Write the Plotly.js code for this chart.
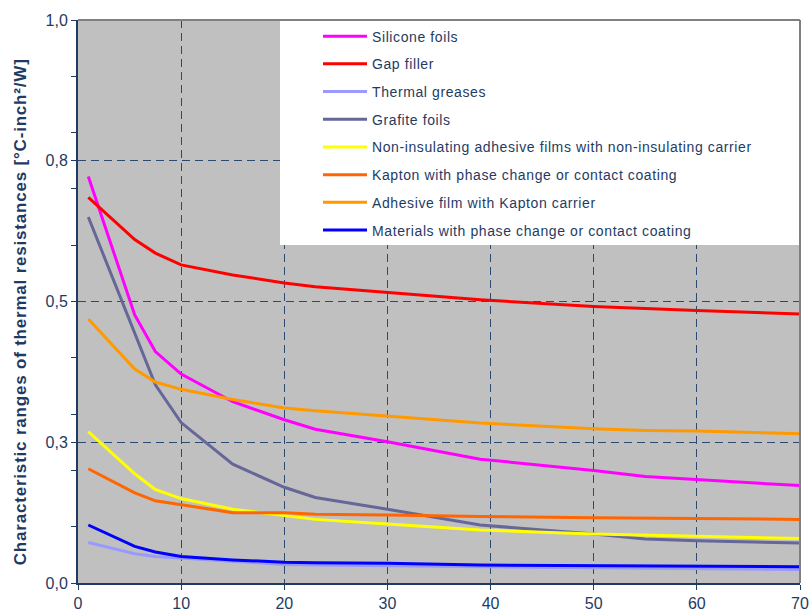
<!DOCTYPE html>
<html>
<head>
<meta charset="utf-8">
<script src="https://cdn.plot.ly/plotly-3.0.1.min.js"></script>
<style>
html,body{margin:0;padding:0;background:#fff;}
#chart{width:812px;height:616px;}
.legendtext{letter-spacing:0.6px;}
.annotation-text{letter-spacing:0.8px;}
</style>
</head>
<body>
<div id="chart"></div>
<script>
// Thickness values (x) shared by all series
const xVals = [1, 5.5, 7.5, 10, 15, 20, 23, 30, 39, 50, 55, 60, 70];

const seriesNames = [
  "Silicone foils",
  "Gap filler",
  "Thermal greases",
  "Grafite foils",
  "Non-insulating adhesive films with non-insulating carrier",
  "Kapton with phase change or contact coating",
  "Adhesive film with Kapton carrier",
  "Materials with phase change or contact coating"
];

const siliconeFoils   = [0.722, 0.476, 0.411, 0.371, 0.322, 0.290, 0.273, 0.251, 0.220, 0.200, 0.189, 0.184, 0.173];
const gapFiller       = [0.685, 0.610, 0.586, 0.565, 0.547, 0.533, 0.526, 0.516, 0.503, 0.491, 0.487, 0.484, 0.478];
const thermalGreases  = [0.072, 0.052, 0.047, 0.044, 0.038, 0.033, 0.032, 0.031, 0.029, 0.027, 0.026, 0.025, 0.024];
const grafiteFoils    = [0.650, 0.442, 0.352, 0.285, 0.211, 0.170, 0.152, 0.131, 0.103, 0.087, 0.078, 0.075, 0.071];
const nonInsulating   = [0.269, 0.194, 0.166, 0.150, 0.131, 0.119, 0.113, 0.105, 0.094, 0.087, 0.085, 0.084, 0.079];
const kaptonPhase     = [0.203, 0.160, 0.146, 0.139, 0.125, 0.125, 0.122, 0.121, 0.118, 0.116, 0.115, 0.114, 0.113];
const adhesiveKapton  = [0.469, 0.380, 0.357, 0.344, 0.326, 0.311, 0.306, 0.296, 0.284, 0.274, 0.271, 0.270, 0.265];
const phaseChange     = [0.103, 0.065, 0.055, 0.047, 0.041, 0.037, 0.036, 0.035, 0.032, 0.031, 0.031, 0.030, 0.029];

const seriesValues = [siliconeFoils, gapFiller, thermalGreases, grafiteFoils, nonInsulating, kaptonPhase, adhesiveKapton, phaseChange];
const seriesColors = ["#ff00ff", "#ff0000", "#9999ff", "#666699", "#ffff00", "#ff6600", "#ff9900", "#0000ff"];

const xTicks = [0, 10, 20, 30, 40, 50, 60, 70];
const yTickVals = [0, 0.25, 0.5, 0.75, 1.0];
const yTickText = ["0,0", "0,3", "0,5", "0,8", "1,0"];
const yTitle = "Characteristic ranges of thermal resistances [°C-inch²/W]";

const navy = "#1f3b63";
const gridCol = "#2a4a72";
const fontFam = "Arial, 'Liberation Sans', sans-serif";

const traces = seriesNames.map((name, i) => ({
  type: "scatter",
  mode: "lines",
  name: name,
  x: xVals,
  y: seriesValues[i],
  line: {color: seriesColors[i], width: 3},
  legendgroup: "g" + i,
  hoverinfo: "x+y+name"
}));

const layout = {
  width: 812,
  height: 616,
  margin: {l: 78, r: 12, t: 20, b: 33, pad: 0},
  paper_bgcolor: "#ffffff",
  plot_bgcolor: "#c0c0c0",
  font: {family: fontFam, color: navy, size: 16},
  showlegend: true,
  legend: {
    x: 0.3324, y: 0.999, xanchor: "left", yanchor: "top",
    bgcolor: "rgba(0,0,0,0)",
    borderwidth: 0,
    font: {family: fontFam, size: 14, color: navy},
    itemwidth: 44,
    traceorder: "grouped",
    tracegroupgap: 6.5
  },
  xaxis: {
    range: [0, 70],
    tickmode: "array",
    tickvals: xTicks,
    ticks: "outside", ticklen: 5, tickcolor: navy, tickwidth: 1,
    showline: true, linecolor: navy, linewidth: 2,
    showgrid: true, gridcolor: gridCol, gridwidth: 1, griddash: "8px,5px",
    zeroline: false,
    tickfont: {family: fontFam, size: 16, color: navy},
    fixedrange: true
  },
  yaxis: {
    range: [0, 1],
    tickmode: "array",
    tickvals: yTickVals,
    ticktext: yTickText,
    ticks: "outside", ticklen: 5, tickcolor: navy, tickwidth: 1,
    minor: {dtick: 0.1, tick0: 0, ticks: "outside", ticklen: 5, tickcolor: navy, tickwidth: 1, showgrid: false},
    showline: true, linecolor: navy, linewidth: 2,
    showgrid: true, gridcolor: gridCol, gridwidth: 1, griddash: "8px,5px",
    zeroline: false,
    tickfont: {family: fontFam, size: 16, color: navy},
    fixedrange: true
  },
  annotations: [
    {text: "<b>" + yTitle + "</b>", xref: "paper", yref: "paper", x: -0.0803, y: 0.481,
     xanchor: "center", yanchor: "middle", textangle: -90, showarrow: false,
     font: {family: fontFam, size: 17, color: navy}}
  ],
  shapes: [
    {type: "rect", xref: "paper", yref: "paper", x0: 0.2798, x1: 1, y0: 0.6004, y1: 1,
     fillcolor: "#ffffff", line: {width: 0}, layer: "above"},
    {type: "line", xref: "paper", yref: "paper", x0: 0, x1: 1, y0: 1, y1: 1,
     line: {color: "#808080", width: 2}, layer: "above"},
    {type: "line", xref: "paper", yref: "paper", x0: 1, x1: 1, y0: 0, y1: 1,
     line: {color: "#808080", width: 2}, layer: "above"}
  ]
};

Plotly.newPlot("chart", traces, layout, {displayModeBar: false, staticPlot: true});
</script>
</body>
</html>
